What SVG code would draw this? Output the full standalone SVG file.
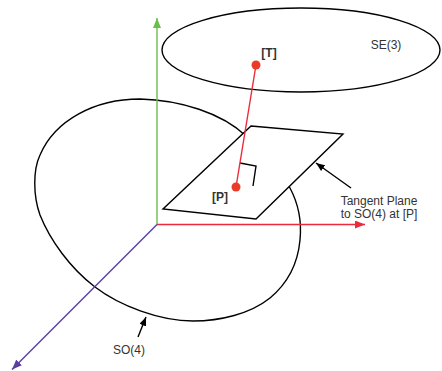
<svg xmlns="http://www.w3.org/2000/svg" width="442" height="371" viewBox="0 0 442 371">
  <defs>
    <marker id="head-green" viewBox="0 0 10 8" refX="10" refY="4" markerWidth="10" markerHeight="8" markerUnits="userSpaceOnUse" orient="auto">
      <path d="M0,0 L10,4 L0,8 Z" fill="#6abf4b"/>
    </marker>
    <marker id="head-red" viewBox="0 0 10 8" refX="10" refY="4" markerWidth="10" markerHeight="8" markerUnits="userSpaceOnUse" orient="auto">
      <path d="M0,0 L10,4 L0,8 Z" fill="#ec2a3c"/>
    </marker>
    <marker id="head-purple" viewBox="0 0 10 8" refX="10" refY="4" markerWidth="10" markerHeight="8" markerUnits="userSpaceOnUse" orient="auto">
      <path d="M0,0 L10,4 L0,8 Z" fill="#5b3fa0"/>
    </marker>
    <marker id="head-black" viewBox="0 0 10 8" refX="10" refY="4" markerWidth="9" markerHeight="7" markerUnits="userSpaceOnUse" orient="auto">
      <path d="M0,0 L10,4 L0,8 Z" fill="#000"/>
    </marker>
  </defs>
  <style>
    .outline { fill: none; stroke: #000; stroke-width: 1.4; }
    .plane { fill: #fff; stroke: #000; stroke-width: 1.4; stroke-linejoin: miter; }
    .label { font-family: "Liberation Sans", Arial, sans-serif; font-size: 12px; fill: #333; text-anchor: middle; }
    .bold { font-weight: bold; }
    .pt { fill: #ea3b2a; }
  </style>

  <!-- SO(4) manifold -->
  <g id="so4">
    <path class="outline" d="M 140,99 C 180,100 222,113 246,136 C 266,154 280,170 290,188 C 298,203 302,220 300,240 C 298,262 288,283 270,298 C 250,314 220,321 193,321 C 160,321 120,306 95,287 C 70,268 50,240 40,215 C 33,195 33,170 40,155 C 55,120 95,99 140,99 Z"/>
  </g>

  <!-- SE(3) manifold -->
  <g id="se3">
    <ellipse class="outline" cx="301" cy="50" rx="139" ry="42"/>
    <text class="label" x="386" y="49">SE(3)</text>
  </g>

  <!-- coordinate axes -->
  <g id="axes">
    <line x1="157" y1="224.5" x2="157" y2="18" stroke="#6abf4b" stroke-width="1.4" marker-end="url(#head-green)"/>
    <line x1="157" y1="224.5" x2="365" y2="224.5" stroke="#ec2a3c" stroke-width="1.4" marker-end="url(#head-red)"/>
    <line x1="157" y1="224.5" x2="12" y2="369.5" stroke="#5b3fa0" stroke-width="1.4" marker-end="url(#head-purple)"/>
  </g>

  <!-- tangent plane at [P] -->
  <g id="tangent-plane">
    <polygon class="plane" points="251,126 343,134 256,219 163,209"/>
    <polyline class="outline" points="240,163 256,166 253,186"/>
  </g>

  <!-- connectors -->
  <g id="connectors">
    <line x1="256" y1="65" x2="236" y2="187" stroke="#ec2a3c" stroke-width="1.4"/>
    <line x1="351" y1="188" x2="316" y2="163" stroke="#000" stroke-width="1.4" marker-end="url(#head-black)"/>
    <line x1="138" y1="337" x2="146" y2="317" stroke="#000" stroke-width="1.4" marker-end="url(#head-black)"/>
  </g>

  <g id="point-t">
    <circle class="pt" cx="256" cy="65" r="4.5"/>
    <text class="label bold" x="269" y="57">[T]</text>
  </g>

  <g id="point-p">
    <circle class="pt" cx="236" cy="187" r="4.5"/>
    <text class="label bold" x="220" y="201">[P]</text>
  </g>

  <g id="plane-label">
    <text class="label" x="379" y="205">Tangent Plane</text>
    <text class="label" x="379" y="218">to SO(4) at [P]</text>
  </g>

  <g id="so4-label">
    <text class="label" x="129" y="354">SO(4)</text>
  </g>
</svg>
